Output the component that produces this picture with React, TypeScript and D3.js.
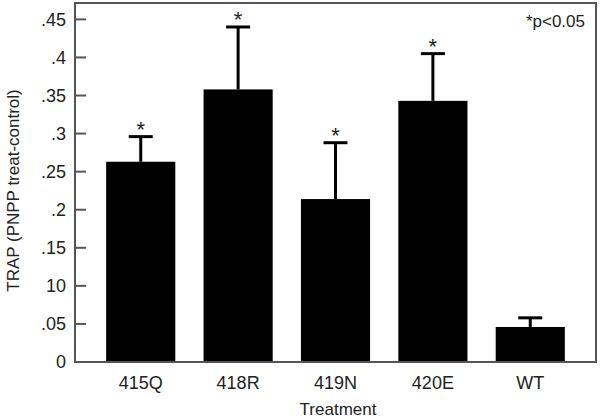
import React from "react";
import * as d3 from "d3";

const categories = ["415Q", "418R", "419N", "420E", "WT"];
const means = [0.263, 0.358, 0.214, 0.343, 0.046];
const errors = [0.033, 0.082, 0.074, 0.062, 0.012];
const significant = [true, true, true, true, false];
const tickValues = [0, 0.05, 0.1, 0.15, 0.2, 0.25, 0.3, 0.35, 0.4, 0.45];
const tickLabels = ["0", ".05", "10", ".15", ".2", ".25", ".3", ".35", ".4", ".45"];

const W = 600;
const H = 419;
const left = 75;
const right = 596;
const top = 3;
const bottom = 362;
const font = "'Liberation Sans', Arial, sans-serif";
const axisColor = "#555";

export default function App() {
  const x = d3
    .scaleBand<string>()
    .domain(categories)
    .range([left, right])
    .paddingInner(0.29)
    .paddingOuter(0.32);
  const y = d3.scaleLinear().domain([0, 0.4715]).range([bottom, top]);
  const capW = 24;

  return (
    <svg
      width={W}
      height={H}
      style={{ position: "fixed", left: 0, top: 0, background: "#fff" }}
      fontFamily={font}
    >
      {/* bars */}
      {categories.map((c, i) => {
        const cx = x(c)! + x.bandwidth() / 2;
        const yTop = y(means[i] + errors[i]);
        return (
          <g key={c}>
            <line x1={cx} x2={cx} y1={y(means[i])} y2={yTop} stroke="#000" strokeWidth={3} />
            <line x1={cx - capW / 2} x2={cx + capW / 2} y1={yTop} y2={yTop} stroke="#000" strokeWidth={3} />
            <rect x={x(c)} y={y(means[i])} width={x.bandwidth()} height={bottom - y(means[i])} fill="#000" />
            {significant[i] && (
              <text x={cx} y={yTop} textAnchor="middle" fontSize={22} fill="#222">
                *
              </text>
            )}
            <text x={cx} y={389} textAnchor="middle" fontSize={18} fill="#222">
              {c}
            </text>
          </g>
        );
      })}

      {/* frame */}
      <rect x={left} y={top} width={right - left} height={bottom - top} fill="none" stroke={axisColor} strokeWidth={2} />

      {/* y ticks */}
      {tickValues.map((v, i) => (
        <g key={v}>
          <line x1={left} x2={left + 11} y1={y(v)} y2={y(v)} stroke={axisColor} strokeWidth={2} />
          <text x={66} y={y(v)} dy="0.36em" textAnchor="end" fontSize={18} fill="#222">
            {tickLabels[i]}
          </text>
        </g>
      ))}

      <text x={585} y={27} textAnchor="end" fontSize={17} fill="#222">
        *p&lt;0.05
      </text>

      <text x={338} y={415} textAnchor="middle" fontSize={17} fill="#222">
        Treatment
      </text>
      <text
        transform={`translate(19, ${(top + bottom) / 2 + 8}) rotate(-90)`}
        textAnchor="middle"
        fontSize={17}
        fill="#222"
      >
        TRAP (PNPP treat-control)
      </text>
    </svg>
  );
}
